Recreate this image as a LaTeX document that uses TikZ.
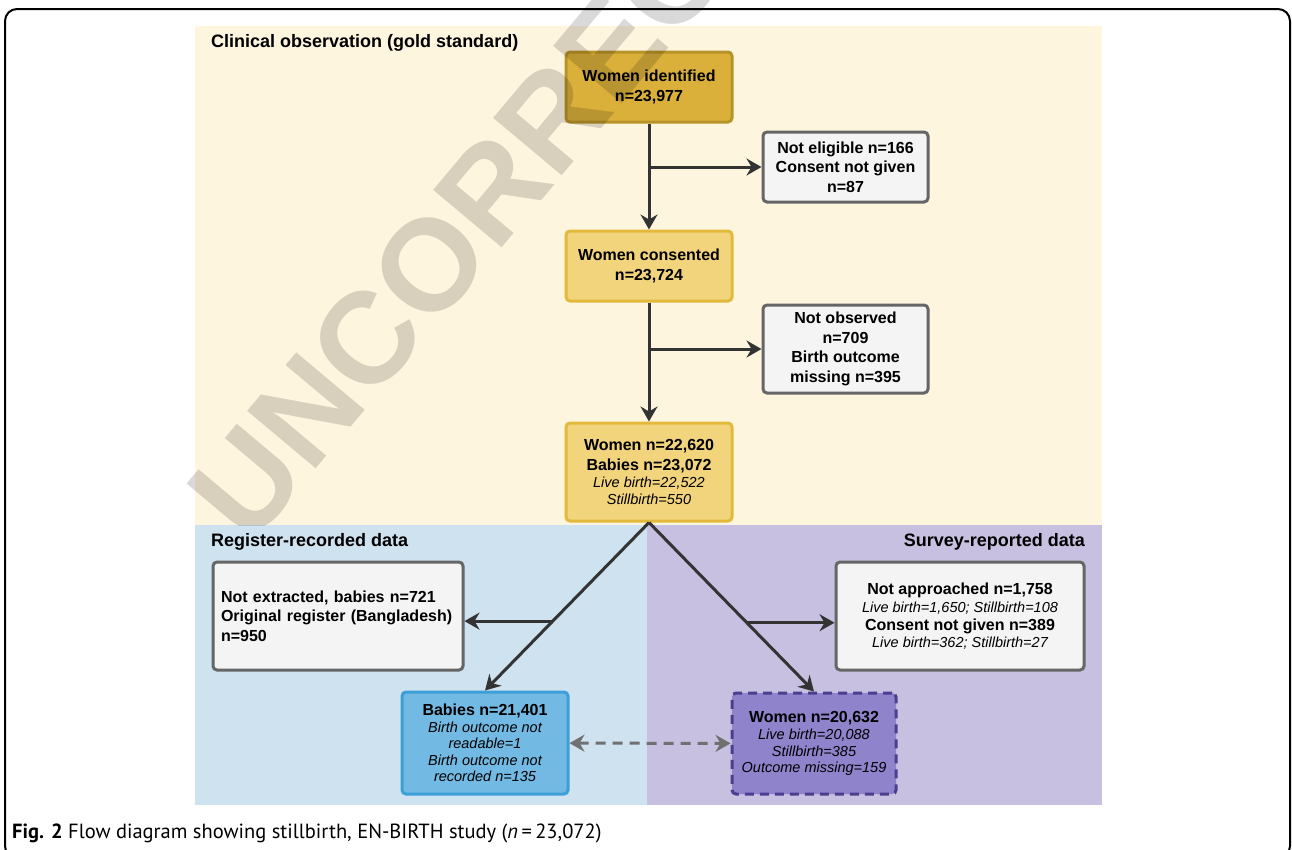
\documentclass[tikz,border=0pt]{standalone}
\usepackage{fontspec}
\setmainfont{Liberation Sans}
\newfontfamily\capfont{PT Sans}
\usetikzlibrary{arrows.meta, positioning, calc}

\definecolor{cliniccolor}{RGB}{254,245,223}
\definecolor{registercolor}{RGB}{207,226,240}
\definecolor{surveycolor}{RGB}{199,192,224}
\definecolor{darkgold}{RGB}{218,176,58}
\definecolor{darkgoldline}{RGB}{184,148,40}
\definecolor{lightgold}{RGB}{242,212,124}
\definecolor{lightgoldline}{RGB}{226,185,59}
\definecolor{excludefill}{RGB}{244,244,244}
\definecolor{excludeline}{RGB}{102,102,102}
\definecolor{babiesfill}{RGB}{114,186,227}
\definecolor{babiesline}{RGB}{60,159,216}
\definecolor{womenfill}{RGB}{143,131,204}
\definecolor{womenline}{RGB}{75,62,145}
\definecolor{arrowcolor}{RGB}{51,51,51}
\definecolor{linkcolor}{RGB}{112,112,112}

\newcommand{\detail}[1]{{\fontsize{14.5}{17}\selectfont\mdseries\itshape #1}}

\begin{document}
\begin{tikzpicture}[
    x=1pt, y=-1pt,
    box/.style={draw, rounded corners=4pt, line width=3pt, align=center, inner sep=3pt, font=\fontsize{16}{19.5}\selectfont\bfseries},
    goldbox/.style={box, fill=lightgold, draw=lightgoldline, minimum width=166pt},
    excludebox/.style={box, fill=excludefill, draw=excludeline},
    paneltitle/.style={inner sep=0pt, font=\fontsize{18}{21}\selectfont\bfseries},
    arrow/.style={-{Stealth[length=15pt, width=17pt, inset=5pt]}, line width=3pt, draw=arrowcolor},
    linkarrow/.style={{Stealth[length=15pt, width=17pt, inset=5pt]}-{Stealth[length=15pt, width=17pt, inset=5pt]}, line width=3pt, draw=linkcolor, dash pattern=on 10pt off 7pt}
]
    \useasboundingbox (0,0) rectangle (1292,849);
    \fill[white] (0,0) rectangle (1292,849);

    % study panels
    \fill[cliniccolor] (195,26) rectangle (1102,525);
    \fill[registercolor] (195,525) rectangle (647,805);
    \fill[surveycolor] (647,525) rectangle (1102,805);
    \node[paneltitle, anchor=west] (cliniclabel) at (211,43) {Clinical observation (gold standard)};
    \node[paneltitle, anchor=west] (registerlabel) at (211,542) {Register-recorded data};
    \node[paneltitle, anchor=east] (surveylabel) at (1085,542) {Survey-reported data};

    % clinical observation
    \node[goldbox, fill=darkgold, draw=darkgoldline, minimum height=70pt] (identified) at (649,87) {Women identified\\n=23,977};
    \node[goldbox, minimum height=70pt, below=106pt of identified] (consented) {Women consented\\n=23,724};
    \node[goldbox, minimum height=98pt, below=119pt of consented] (observed) {Women n=22,620\\Babies n=23,072\\[-2.5pt]\detail{Live birth=22,522}\\[-2.5pt]\detail{Stillbirth=550}};
    \node[excludebox, minimum width=165pt, minimum height=70pt] (noteligible) at (845.5,167) {Not eligible n=166\\Consent not given\\n=87};
    \node[excludebox, minimum width=165pt, minimum height=88pt] (notobserved) at (845.5,349) {Not observed\\n=709\\Birth outcome\\missing n=395};

    % register and survey
    \node[excludebox, minimum height=108pt, text width=234pt, inner sep=8pt, align=left] (notextracted) at (338,616) {Not extracted, babies n=721\\Original register (Bangladesh)\\n=950};
    \node[excludebox, minimum width=248pt, minimum height=108pt] (notapproached) at (960,616) {Not approached n=1,758\\[-1.5pt]\detail{Live birth=1,650; Stillbirth=108}\\[-1.5pt]Consent not given n=389\\[-2.5pt]\detail{Live birth=362; Stillbirth=27}};
    \node[box, fill=babiesfill, draw=babiesline, minimum width=166pt, minimum height=102pt] (babies) at (485,743) {Babies n=21,401\\[-3pt]\detail{Birth outcome not}\\[-3pt]\detail{readable=1}\\[-3pt]\detail{Birth outcome not}\\[-3pt]\detail{recorded n=135}};
    \node[box, fill=womenfill, draw=womenline, dash pattern=on 9pt off 6pt, minimum width=164pt, minimum height=101pt] (surveyed) at (814,743.5) {Women n=20,632\\[-2pt]\detail{Live birth=20,088}\\[-3pt]\detail{Stillbirth=385}\\[-3pt]\detail{Outcome missing=159}};

    % connectors
    \draw[arrow] (identified) -- (consented);
    \draw[arrow] (identified.south |- noteligible) -- (noteligible);
    \draw[arrow] (consented) -- (observed);
    \draw[arrow] (consented.south |- notobserved) -- (notobserved);
    \draw[arrow] (observed.south) -- coordinate[pos=0.587] (registersplit) (babies.north);
    \draw[arrow] (observed.south) -- coordinate[pos=0.593] (surveysplit) (surveyed.north);
    \draw[arrow] (registersplit) -- (registersplit -| notextracted.east);
    \draw[arrow] (surveysplit) -- (surveysplit -| notapproached.west);
    \draw[linkarrow] (babies) -- (surveyed);

    % caption and frame
    \node[anchor=west, inner sep=0pt, font=\capfont\fontsize{20.5}{24}\selectfont] (caption) at (12,833) {\textbf{Fig. 2} Flow diagram showing stillbirth, EN-BIRTH study (\textit{n}\,=\,23,072)};
    \begin{scope}
        \clip (0,0) rectangle (1292,849);
        \draw[line width=2pt, rounded corners=12pt] (5,9) rectangle (1290,858);
    \end{scope}

    % proof watermark
    \begin{scope}
        \clip (0,0) rectangle (1292,525);
        \node[rotate=50, anchor=base west, inner sep=0pt, text=black, text opacity=0.15, font=\fontsize{130}{130}\selectfont\bfseries] (watermark) at (250,548) {UNCORRECTED PROOF};
    \end{scope}
\end{tikzpicture}
\end{document}
